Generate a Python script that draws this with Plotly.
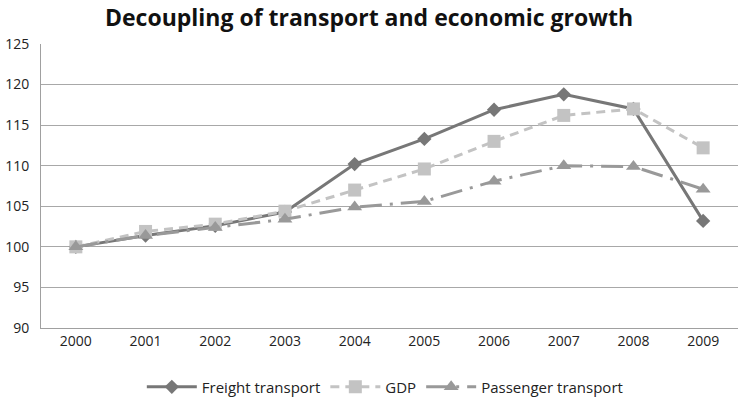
import plotly.graph_objects as go

# Index values (2000 = 100)
years = ["2000", "2001", "2002", "2003", "2004", "2005", "2006", "2007", "2008", "2009"]
freight = [100.0, 101.4, 102.6, 104.3, 110.2, 113.3, 116.9, 118.8, 117.0, 103.2]
gdp = [100.0, 101.9, 102.8, 104.4, 107.0, 109.6, 113.0, 116.2, 117.0, 112.2]
passenger = [100.0, 101.4, 102.4, 103.4, 104.9, 105.6, 108.1, 110.0, 109.9, 107.1]

fig = go.Figure()
fig.add_trace(go.Scatter(
    x=years, y=freight, name="Freight transport", mode="lines+markers",
    line=dict(color="#777777", width=3),
    marker=dict(symbol="diamond", size=11, color="#777777"),
))
fig.add_trace(go.Scatter(
    x=years, y=gdp, name="GDP", mode="lines+markers",
    line=dict(color="#c3c3c3", width=3, dash="9px,6px"),
    marker=dict(symbol="square", size=13, color="#c3c3c3"),
))
fig.add_trace(go.Scatter(
    x=years, y=passenger, name="Passenger transport", mode="lines+markers",
    line=dict(color="#999999", width=3, dash="22px,8px,3px,8px"),
    marker=dict(symbol="triangle-up", size=13, color="#999999"),
))

font_family = "Open Sans, Liberation Sans, sans-serif"
fig.update_layout(
    width=738, height=401,
    margin=dict(l=41, r=0, t=44, b=73, autoexpand=False),
    paper_bgcolor="white", plot_bgcolor="white",
    title=dict(text="<b>Decoupling of transport and economic growth</b>",
               x=0.5, xref="container", xanchor="center", y=0.955, yanchor="middle",
               font=dict(family=font_family, size=23, color="#111111")),
    font=dict(family=font_family, size=14, color="#222222"),
    showlegend=True,
    legend=dict(orientation="h", x=0.494, xanchor="center",
                y=-0.15, yanchor="top",
                font=dict(size=15, color="#222222"), itemwidth=50),
    xaxis=dict(type="category", range=[-0.5, 9.5], showgrid=False,
               showline=True, linecolor="#a0a0a0", linewidth=1, ticks="",
               tickfont=dict(size=14), tickangle=0),
    yaxis=dict(range=[90, 125], dtick=5, showgrid=True, gridcolor="#a8a8a8",
               gridwidth=1, showline=True, linecolor="#a0a0a0", linewidth=1,
               ticks="", tickfont=dict(size=14), zeroline=False,
               ticklabelstandoff=8),
)

fig.write_html("out.html")
